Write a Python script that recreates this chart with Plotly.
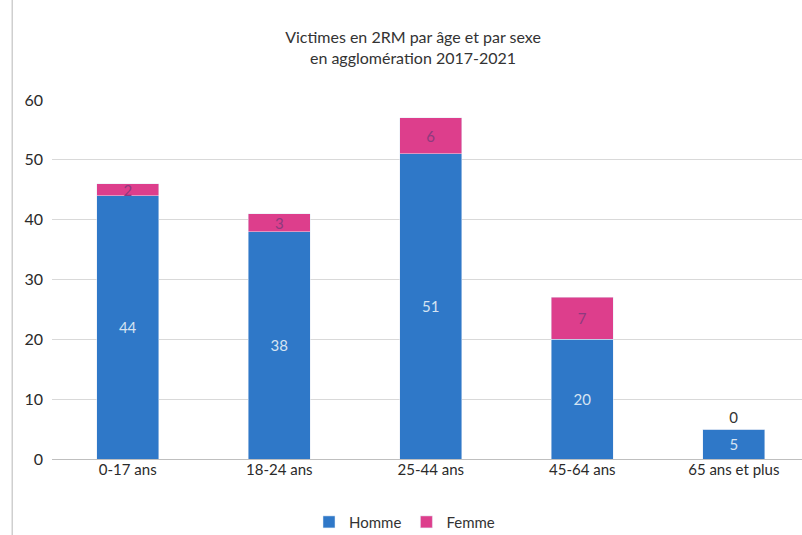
import plotly.graph_objects as go

categories = ["0-17 ans", "18-24 ans", "25-44 ans", "45-64 ans", "65 ans et plus"]
homme = [44, 38, 51, 20, 5]
femme = [2, 3, 6, 7, 0]
y_ticks = [0, 10, 20, 30, 40, 50, 60]

blue = "#2F78C8"
pink = "#DD3E8C"
font_family = "Lato, Open Sans, sans-serif"

fig = go.Figure()
fig.add_trace(go.Bar(
    name="Homme", x=categories, y=homme, marker_color=blue,
    text=[str(v) for v in homme], textposition="inside", textangle=0,
    insidetextanchor="middle", constraintext="none",
    textfont=dict(color="#D6E4F2", size=15, family=font_family),
    width=0.41,
))
fig.add_trace(go.Bar(
    name="Femme", x=categories, y=femme, marker_color=pink,
    text=[str(v) for v in femme], textangle=0,
    textposition=["inside" if v > 0 else "outside" for v in femme],
    insidetextanchor="middle", constraintext="none",
    textfont=dict(color="#8E3A7E", size=15, family=font_family),
    outsidetextfont=dict(color="#333333", size=15, family=font_family),
    width=0.41,
))

fig.update_layout(
    barmode="stack",
    width=802, height=535,
    margin=dict(l=52, r=0, t=100, b=76),
    paper_bgcolor="white", plot_bgcolor="white",
    font=dict(family=font_family, color="#333333"),
    title=dict(
        text="Victimes en 2RM par âge et par sexe<br>en agglomération 2017-2021",
        x=0.515, xanchor="center", y=0.92, yanchor="middle",
        font=dict(size=16, color="#333333"),
    ),
    xaxis=dict(
        range=[-0.5, 4.45], showgrid=False, showline=False, ticks="",
        tickfont=dict(size=15, color="#2a2a2a"),
    ),
    yaxis=dict(
        range=[0, 60], tickvals=y_ticks, showgrid=True,
        gridcolor="#D9D9D9", gridwidth=1, zeroline=True,
        zerolinecolor="#BFBFBF", zerolinewidth=1,
        tickfont=dict(size=16, color="#2a2a2a"), ticklabelstandoff=8,
    ),
    legend=dict(
        orientation="h", traceorder="normal",
        x=0.47, xanchor="center", xref="paper",
        y=0.024, yanchor="middle", yref="container",
        font=dict(size=15, color="#333333"), itemwidth=30,
    ),
    showlegend=True,
)

# thin frame line on the left edge
fig.add_shape(type="line", xref="paper", yref="paper",
              x0=-0.053, x1=-0.053, y0=-0.22, y1=1.28,
              line=dict(color="#CFCFCF", width=1.5))

fig.write_html("out.html")
